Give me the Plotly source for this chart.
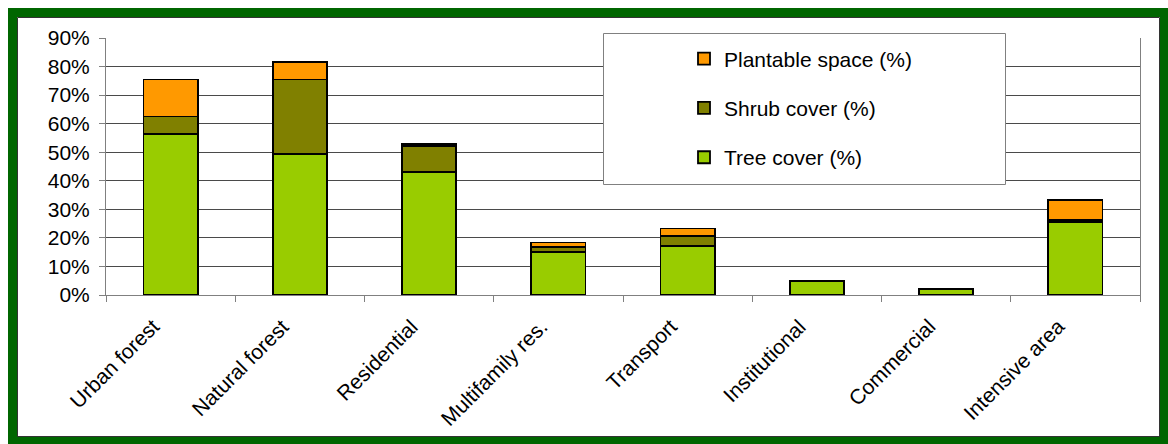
import plotly.graph_objects as go

# Land-use classes and cover shares (%)
categories = ["Urban forest", "Natural forest", "Residential", "Multifamily res.",
              "Transport", "Institutional", "Commercial", "Intensive area"]
tree_cover = [56.5, 49.5, 43.2, 15.1, 17.1, 4.8, 2.2, 25.6]
shrub_cover = [6.0, 26.0, 9.0, 1.8, 3.5, 0.0, 0.0, 0.6]
plantable_space = [13.0, 6.2, 0.7, 1.5, 2.7, 0.0, 0.0, 7.0]
y_ticks = [0, 10, 20, 30, 40, 50, 60, 70, 80, 90]
y_tick_text = [f"{v}%" for v in y_ticks]

W, H = 1168, 444
L, R, T, B = 106, 28, 38, 149
PW, PH = W - L - R, H - T - B


def px_x(px):
    return (px - L) / PW


def px_y(py):
    return (H - B - py) / PH


FONT = "Liberation Sans, Arial, sans-serif"
FS = 21
outline = dict(color="#000000", width=1.8)

fig = go.Figure()
for rank, (name, vals, color) in enumerate([
        ("Tree cover (%)", tree_cover, "#99CC00"),
        ("Shrub cover (%)", shrub_cover, "#808000"),
        ("Plantable space (%)", plantable_space, "#FF9900")]):
    fig.add_trace(go.Bar(x=categories, y=vals, name=name, legendgroup=name,
                         legendrank=1000 - rank,
                         marker=dict(color=color, line=outline)))

shapes = [
    # green page frame
    dict(type="rect", xref="paper", yref="paper",
         x0=px_x(12.5), x1=px_x(1164.5), y0=px_y(12.5), y1=px_y(440.5),
         line=dict(color="#006600", width=9), fillcolor="rgba(0,0,0,0)", layer="above"),
    dict(type="rect", xref="paper", yref="paper",
         x0=px_x(17.5), x1=px_x(1159.5), y0=px_y(17.5), y1=px_y(436.5),
         line=dict(color="#333333", width=1), fillcolor="rgba(0,0,0,0)", layer="above"),
    # legend box
    dict(type="rect", xref="paper", yref="paper",
         x0=px_x(603.5), x1=px_x(1005.5), y0=px_y(33.5), y1=px_y(184.5),
         line=dict(color="#808080", width=1), fillcolor="#FFFFFF", layer="above"),
]

# rotated category labels, end of each label tucked under its bar
annotations = [
    dict(x=i, y=0, xref="x", yref="y", text=c, showarrow=False, textangle=-45,
         xanchor="right", yanchor="top", xshift=-4, yshift=-17,
         font=dict(family=FONT, size=FS, color="#000000"))
    for i, c in enumerate(categories)
]

fig.update_layout(
    width=W, height=H,
    margin=dict(l=L, r=R, t=T, b=B),
    barmode="stack", bargap=0.58,
    paper_bgcolor="#FFFFFF", plot_bgcolor="rgba(0,0,0,0)",
    font=dict(family=FONT, size=FS, color="#000000"),
    shapes=shapes,
    annotations=annotations,
    showlegend=True,
    legend=dict(x=px_x(684), y=px_y(38.5), xanchor="left", yanchor="top",
                bgcolor="rgba(0,0,0,0)", borderwidth=0,
                traceorder="grouped", tracegroupgap=19,
                font=dict(family=FONT, size=FS, color="#000000")),
    xaxis=dict(type="category", range=[-0.5, len(categories) - 0.5],
               tickson="boundaries", ticks="outside", ticklen=6,
               tickcolor="#808080", showline=True, linecolor="#808080", linewidth=1,
               mirror=False, showgrid=False, showticklabels=False),
    yaxis=dict(range=[0, 90], tickvals=y_ticks, ticktext=y_tick_text,
               ticks="outside", ticklen=6, tickcolor="#808080",
               showline=True, linecolor="#808080", linewidth=1, mirror=True,
               showgrid=True, gridcolor="#4a4a4a", gridwidth=1, zeroline=False,
               ticklabelstandoff=5,
               tickfont=dict(family=FONT, size=FS, color="#000000")),
)

fig.write_html("out.html")
